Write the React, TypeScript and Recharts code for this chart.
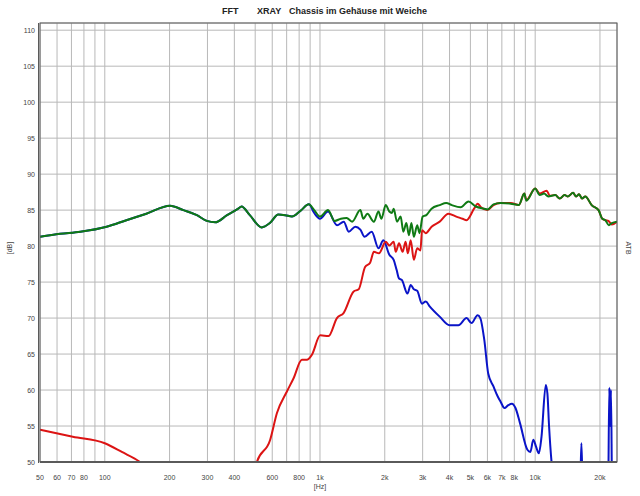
import React from "react";
import { LineChart, Line, XAxis, YAxis, CartesianGrid } from "recharts";

const gridFrequencies = [50, 60, 70, 80, 90, 100, 200, 300, 400, 500, 600, 700, 800, 900, 1000, 2000, 3000, 4000, 5000, 6000, 7000, 8000, 9000, 10000, 20000];
const frequencyLabels = ["50", "60", "70", "80", "", "100", "200", "300", "400", "", "600", "", "800", "", "1k", "2k", "3k", "4k", "5k", "6k", "7k", "8k", "", "10k", "20k"];
const dbTicks = [50, 55, 60, 65, 70, 75, 80, 85, 90, 95, 100, 105, 110];

// Green: summed response
const sumFreq = [50, 62, 77, 102, 126, 156, 201, 232, 268, 298, 326, 370, 417, 432, 472, 536, 585, 640, 689, 741, 811, 888, 940, 1000, 1090, 1170, 1250, 1330, 1410, 1540, 1590, 1660, 1780, 1870, 1930, 2020, 2100, 2160, 2200, 2280, 2370, 2440, 2520, 2590, 2660, 2730, 2830, 2900, 3000, 3120, 3300, 3600, 3860, 4100, 4500, 4900, 5300, 5800, 6000, 6400, 6900, 7700, 8400, 8900, 9100, 10000, 10500, 11000, 11500, 12400, 13000, 13700, 14200, 15000, 15500, 16000, 16500, 17100, 18300, 19700, 20500, 21200, 22000, 22700, 24000];
const sumDb = [81.3, 81.7, 82.0, 82.7, 83.6, 84.5, 85.6, 85.0, 84.3, 83.5, 83.3, 84.3, 85.2, 85.5, 84.3, 82.6, 83.2, 84.4, 84.3, 84.1, 84.9, 85.8, 85.0, 84.1, 85.0, 83.5, 83.8, 83.9, 83.4, 85.0, 83.8, 84.5, 83.4, 84.8, 83.8, 85.7, 84.8, 84.6, 85.2, 83.4, 84.1, 82.0, 83.2, 81.5, 83.2, 81.3, 82.9, 81.8, 84.1, 84.3, 85.2, 85.7, 86.0, 85.7, 85.4, 86.2, 85.5, 85.2, 85.1, 85.8, 86.0, 85.9, 85.7, 87.3, 86.3, 88.0, 87.1, 87.3, 86.9, 87.1, 86.6, 87.1, 86.9, 87.4, 86.9, 87.2, 86.6, 86.9, 85.7, 85.0, 83.8, 83.6, 82.9, 83.2, 83.4];

// Red: tweeter branch
const redFreq = [50, 71, 100, 120, 146, 200, 300, 400, 470, 509, 587, 631, 702, 753, 824, 869, 917, 1003, 1096, 1199, 1287, 1434, 1513, 1620, 1710, 1780, 1880, 2020, 2100, 2200, 2250, 2330, 2420, 2500, 2560, 2640, 2730, 2830, 2930, 2980, 3100, 3300, 3600, 3950, 4300, 4600, 4800, 5200, 5400, 5600, 6000, 6400, 6900, 7700, 8400, 8900, 9100, 10000, 10500, 11300, 11700, 12400, 13000, 13700, 14200, 15000, 15500, 16000, 16500, 17100, 18300, 19700, 20500, 21200, 21900, 22700, 24000];
const redDb = [54.5, 53.5, 52.6, 51.4, 50.0, 46, 41, 42, 46, 50.0, 53.1, 56.8, 59.8, 61.6, 64.2, 64.2, 64.9, 67.6, 67.5, 70.0, 70.7, 73.7, 74.0, 77.1, 77.7, 79.2, 79.0, 80.6, 80.1, 80.6, 79.2, 80.4, 79.2, 80.6, 79.0, 80.8, 78.1, 79.7, 79.4, 82.2, 81.8, 82.7, 83.4, 84.5, 84.1, 83.8, 83.6, 85.2, 85.9, 85.4, 85.0, 85.7, 86.0, 86.0, 85.7, 87.3, 86.4, 88.0, 87.3, 87.7, 87.0, 87.1, 86.6, 87.1, 86.9, 87.4, 86.9, 87.2, 86.6, 86.9, 85.7, 85.0, 83.8, 83.6, 83.5, 83.0, 83.4];

// Blue: woofer branch
const blueFreq = [50, 62, 77, 102, 126, 156, 201, 232, 268, 298, 326, 370, 417, 432, 472, 536, 585, 640, 689, 741, 811, 888, 940, 1000, 1090, 1200, 1290, 1360, 1460, 1540, 1610, 1740, 1870, 1970, 2100, 2200, 2270, 2330, 2400, 2550, 2640, 2730, 2830, 2980, 3100, 3240, 3600, 4000, 4400, 4800, 5060, 5400, 5560, 5800, 6050, 6400, 6700, 6900, 7200, 7500, 7800, 8100, 8500, 9200, 9500, 9800, 10100, 10400, 10700, 11200, 11400, 11600, 12000, 12500, 15800, 16200, 16400, 16600, 17000, 21800, 22100, 22300, 22500, 22800, 24000];
const blueDb = [81.3, 81.7, 82.0, 82.7, 83.6, 84.5, 85.6, 85.0, 84.3, 83.5, 83.3, 84.3, 85.2, 85.5, 84.3, 82.6, 83.2, 84.4, 84.3, 84.1, 84.9, 85.8, 84.6, 83.8, 84.8, 82.9, 83.4, 82.0, 82.7, 82.3, 81.3, 82.0, 79.7, 80.8, 78.8, 78.1, 76.7, 75.5, 75.3, 73.4, 74.6, 74.0, 73.8, 72.0, 72.3, 71.6, 70.2, 69.0, 69.0, 70.0, 69.3, 70.4, 70.0, 67.0, 62.3, 60.5, 59.1, 58.4, 57.5, 57.9, 58.1, 57.5, 55.4, 51.7, 51.4, 53.1, 52.1, 51.2, 53.5, 60.7, 59.5, 55.0, 49.0, 46.0, 44.0, 47.0, 52.6, 47.0, 44.0, 44.0, 60.3, 55.0, 60.0, 45.0, 44.0];

const toRows = (f: number[], v: number[]) => f.map((x, i) => ({ f: x, v: v[i] }));
const sumRows = toRows(sumFreq, sumDb);
const redRows = toRows(redFreq, redDb);
const blueRows = toRows(blueFreq, blueDb);

const FONT = '"Liberation Sans", Arial, sans-serif';

const XTick = (props: any) => {
  const { x, y, payload } = props;
  const idx = gridFrequencies.indexOf(payload.value);
  const label = idx >= 0 ? frequencyLabels[idx] : "";
  if (!label) return <g />;
  return (
    <text x={x} y={y + 18} textAnchor="middle" fontSize={7} fill="#444" fontFamily={FONT}>
      {label}
    </text>
  );
};

const YTick = (props: any) => {
  const { x, y, payload } = props;
  return (
    <text x={x - 5} y={y + 2.5} textAnchor="end" fontSize={7} fill="#444" fontFamily={FONT}>
      {payload.value}
    </text>
  );
};

export default function App() {
  return (
    <div style={{ position: "absolute", left: 0, top: 0, width: 640, height: 496, background: "#fff", fontFamily: FONT }}>
      <LineChart width={640} height={496} margin={{ top: 23, right: 23, bottom: 0, left: 0 }}>
        <CartesianGrid stroke="#b8b8b8" strokeWidth={1} />
        <XAxis
          dataKey="f"
          type="number"
          scale="log"
          domain={[50, 24000]}
          allowDataOverflow
          ticks={gridFrequencies}
          interval={0}
          height={34}
          axisLine={false}
          tickLine={false}
          tickSize={0}
          tickMargin={0}
          tick={<XTick />}
        />
        <YAxis
          type="number"
          domain={[50, 111]}
          allowDataOverflow
          ticks={dbTicks}
          interval={0}
          width={40}
          axisLine={false}
          tickLine={false}
          tickSize={0}
          tickMargin={0}
          tick={<YTick />}
        />
        <Line data={blueRows} dataKey="v" type="monotone" stroke="#0a14c8" strokeWidth={2} dot={false} isAnimationActive={false} />
        <Line data={redRows} dataKey="v" type="monotone" stroke="#dc1414" strokeWidth={2} dot={false} isAnimationActive={false} />
        <Line data={sumRows} dataKey="v" type="monotone" stroke="#0f7a14" strokeWidth={2} dot={false} isAnimationActive={false} />
      </LineChart>
      <svg width={640} height={496} style={{ position: "absolute", left: 0, top: 0, pointerEvents: "none" }}>
        <rect x={40} y={23} width={577} height={439} fill="none" stroke="#5a5a5a" strokeWidth={1} />
        <line x1={40} y1={462} x2={617} y2={462} stroke="#5a5a5a" strokeWidth={2} />
        <line x1={38.5} y1={23} x2={38.5} y2={463} stroke="#5a5a5a" strokeWidth={1} />
        <text x={222} y={14} fontSize={9} fontWeight="bold" fill="#222" fontFamily={FONT}>FFT</text>
        <text x={257} y={14} fontSize={9} fontWeight="bold" fill="#222" fontFamily={FONT}>XRAY</text>
        <text x={289} y={14} fontSize={9} fontWeight="bold" fill="#222" fontFamily={FONT}>Chassis im Gehäuse mit Weiche</text>
        <text x={320} y={489} textAnchor="middle" fontSize={7} fill="#444" fontFamily={FONT}>[Hz]</text>
        <text transform="translate(12,248) rotate(-90)" textAnchor="middle" fontSize={7} fill="#444" fontFamily={FONT}>[dB]</text>
        <text transform="translate(626,248) rotate(90)" textAnchor="middle" fontSize={7} fill="#444" fontFamily={FONT}>ATB</text>
      </svg>
    </div>
  );
}
